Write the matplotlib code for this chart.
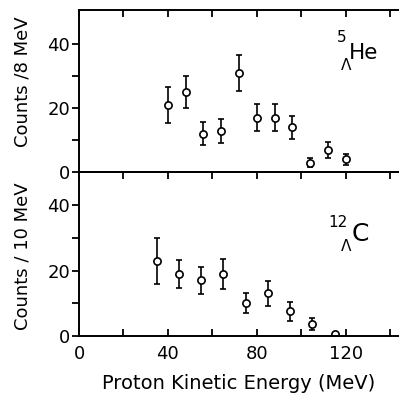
#!/usr/bin/env python3

import matplotlib
matplotlib.use("Agg")
import matplotlib.pyplot as plt
from matplotlib.ticker import FixedLocator

matplotlib.rcParams['font.family'] = 'DejaVu Sans'

# He: 8 MeV bins
he_energy = [40, 48, 56, 64, 72, 80, 88, 96, 104, 112, 120]
he_counts = [21, 25, 12, 13, 31, 17, 17, 14, 3, 7, 4]
he_err = [5.5, 5.0, 3.6, 3.7, 5.5, 4.2, 4.2, 3.7, 1.5, 2.6, 1.8]

# C: 10 MeV bins
c_energy = [35, 45, 55, 65, 75, 85, 95, 105, 115]
c_counts = [23, 19, 17, 19, 10, 13, 7.5, 3.7, 0.6]
c_err = [7.0, 4.2, 4.2, 4.5, 3.0, 3.7, 2.8, 1.9, 0.0]

x_major = [0, 40, 80, 120]
x_minor = [20, 60, 100, 140]

fig = plt.figure(figsize=(3.99, 3.93), dpi=100)
ax_top = fig.add_axes([0.198, 0.5616, 0.802, 0.4130])
ax_bot = fig.add_axes([0.198, 0.1450, 0.802, 0.4166])

err_style = dict(fmt='o', mfc='white', mec='black', ms=5.2, mew=1.2,
                 ecolor='black', elinewidth=1.2, capsize=2.5, capthick=1.2,
                 color='black')

ax_top.errorbar(he_energy, he_counts, yerr=he_err, **err_style)
ax_bot.errorbar(c_energy, c_counts, yerr=c_err, **err_style)

ax_top.set_ylim(0, 50.7)
ax_bot.set_ylim(0, 50)

for ax in (ax_top, ax_bot):
    ax.set_xlim(0, 144)
    ax.spines['right'].set_visible(False)
    for s in ('left', 'top', 'bottom'):
        ax.spines[s].set_linewidth(1.4)
    ax.xaxis.set_major_locator(FixedLocator(x_major))
    ax.xaxis.set_minor_locator(FixedLocator(x_minor))
    ax.yaxis.set_major_locator(FixedLocator([0, 20, 40]))
    ax.yaxis.set_minor_locator(FixedLocator([10, 30]))
    ax.tick_params(axis='y', which='both', direction='out', length=5,
                   width=1.3, pad=1.5, labelsize=13)
    ax.tick_params(axis='x', which='both', direction='in', length=5,
                   width=1.3, pad=6.5, labelsize=13, top=True)
    ax.patch.set_alpha(0)

ax_top.tick_params(axis='x', which='both', bottom=False, labelbottom=False)

ax_top.set_ylabel('Counts /8 MeV', fontsize=13)
ax_top.yaxis.set_label_coords(-0.147, 0.56)
ax_bot.set_ylabel('Counts / 10 MeV', fontsize=13)
ax_bot.yaxis.set_label_coords(-0.147, 0.49)
ax_bot.set_xlabel('Proton Kinetic Energy (MeV)', fontsize=14, labelpad=8)

# nucleus labels
ax_top.text(118.3, 42.0, '5', fontsize=11, ha='center', va='center')
ax_top.text(120.1, 33.4, 'Λ', fontsize=11, ha='center', va='center')
ax_top.text(121.5, 37.4, 'He', fontsize=15.5, ha='left', va='center')

ax_bot.text(116.3, 34.8, '12', fontsize=11, ha='center', va='center')
ax_bot.text(120.1, 27.2, 'Λ', fontsize=11, ha='center', va='center')
ax_bot.text(122.5, 31.2, 'C', fontsize=18, ha='left', va='center')

fig.savefig('out.png', dpi=100)
